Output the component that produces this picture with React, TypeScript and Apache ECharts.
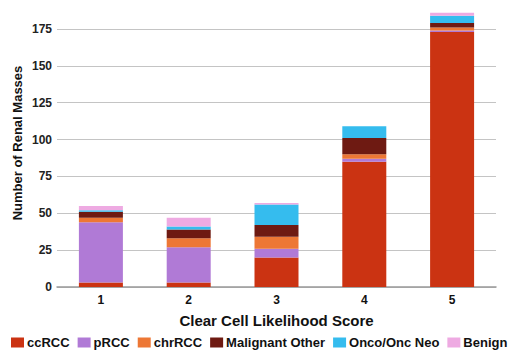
import React, { useEffect, useRef } from "react";
import * as echarts from "echarts";

const categories = ["1", "2", "3", "4", "5"];
const seriesNames = ["ccRCC", "pRCC", "chrRCC", "Malignant Other", "Onco/Onc Neo", "Benign"];
const ccRCC = [3, 3, 20, 85, 173];
const pRCC = [41, 24, 6, 2, 1];
const chrRCC = [3, 6, 8, 3, 2];
const malignantOther = [4, 6, 8, 11, 3];
const oncoNeo = [1, 2, 14, 8, 5];
const benign = [3, 6, 1, 0, 2];
const colors = ["#cb3312", "#b07ad6", "#ed7735", "#6e1a12", "#35bcee", "#eeaae2"];
const yTicks = [0, 25, 50, 75, 100, 125, 150, 175];

export default function App() {
  const ref = useRef<HTMLDivElement>(null);
  useEffect(() => {
    if (!ref.current) return;
    document.body.style.margin = "0";
    const chart = echarts.init(ref.current, null, { renderer: "svg" });
    const values = [ccRCC, pRCC, chrRCC, malignantOther, oncoNeo, benign];
    const font = "'Liberation Sans', Arial, sans-serif";
    chart.setOption({
      animation: false,
      textStyle: { fontFamily: font },
      grid: { left: 57, right: 24, top: 29, bottom: 67 },
      legend: {
        top: 331,
        left: 6,
        width: 514,
        itemWidth: 13,
        itemHeight: 10,
        itemGap: 8,
        icon: "rect",
        textStyle: { fontFamily: font, fontWeight: "bold", fontSize: 13, color: "#111", padding: [0, 0, 0, -2] },
        data: seriesNames,
      },
      xAxis: {
        type: "category",
        data: categories,
        name: "Clear Cell Likelihood Score",
        nameLocation: "middle",
        nameGap: 26,
        nameTextStyle: { fontFamily: font, fontWeight: "bold", fontSize: 15, color: "#111" },
        axisLine: { lineStyle: { color: "#999", width: 1.5 } },
        axisTick: { show: false },
        axisLabel: { fontFamily: font, fontWeight: "bold", fontSize: 12, color: "#111", margin: 7 },
      },
      yAxis: {
        type: "value",
        min: yTicks[0],
        max: yTicks[yTicks.length - 1],
        interval: 25,
        axisLine: { show: false },
        axisTick: { show: false },
        axisLabel: { fontFamily: font, fontWeight: "bold", fontSize: 12, color: "#222", margin: 5 },
        splitLine: { lineStyle: { color: "#c4c4c4", width: 1.2 } },
      },
      graphic: [
        {
          type: "text",
          x: 17,
          y: 143,
          rotation: Math.PI / 2,
          style: {
            text: "Number of Renal Masses",
            font: `bold 13px ${font}`,
            fill: "#111",
            textAlign: "center",
            textVerticalAlign: "middle",
          },
        },
      ],
      series: seriesNames.map((name, i) => ({
        name,
        type: "bar",
        stack: "total",
        data: values[i],
        barWidth: 44,
        clip: false,
        itemStyle: { color: colors[i] },
      })),
    });
    return () => chart.dispose();
  }, []);
  return <div ref={ref} style={{ width: 520, height: 354 }} />;
}
